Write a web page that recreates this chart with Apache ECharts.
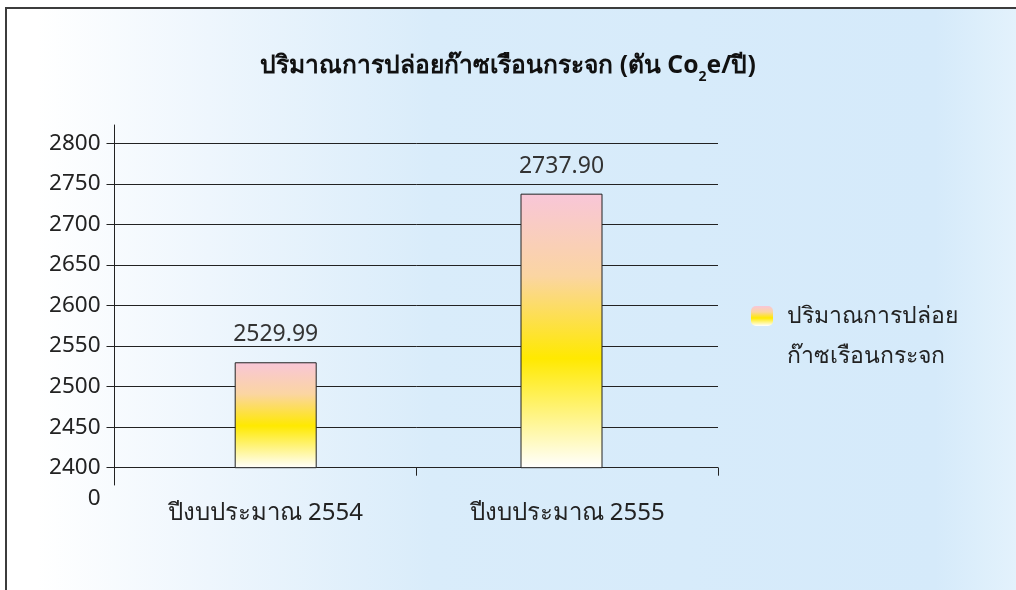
<!DOCTYPE html>
<html>
<head>
<meta charset="utf-8">
<script src="https://cdn.jsdelivr.net/npm/echarts@6/dist/echarts.min.js"></script>
<style>
  html, body { margin: 0; padding: 0; background: #fff; }
  .frame {
    position: absolute;
    left: 5px;
    top: 7px;
    width: 1011px;
    height: 583px;
    box-sizing: border-box;
    border-top: 2px solid #3c3c3c;
    border-left: 2px solid #3c3c3c;
    background: linear-gradient(to right, #ffffff 3%, #eef6fd 20%, #d9ecfa 42%, #d5eafa 92%, #e3f2fc 100%);
  }
  #chart { position: absolute; left: 0; top: 0; width: 1016px; height: 590px; }
</style>
</head>
<body>
<div class="frame"></div>
<div id="chart"></div>
<script>
// data
const categories = ['ปีงบประมาณ 2554', 'ปีงบประมาณ 2555'];
const emissions = [2529.99, 2737.90];
const seriesName = 'ปริมาณการปล่อย\nก๊าซเรือนกระจก';
const yMin = 2400, yMax = 2800, yStep = 50;

const font = 'Noto Sans, sans-serif';
const barFill = new echarts.graphic.LinearGradient(0, 0, 0, 1, [
  { offset: 0, color: '#f8c6d8' },
  { offset: 0.3, color: '#fbd5a2' },
  { offset: 0.6, color: '#ffe900' },
  { offset: 1, color: '#ffffff' }
]);

const chart = echarts.init(document.getElementById('chart'));
chart.setOption({
  backgroundColor: 'transparent',
  textStyle: { fontFamily: font },
  title: {
    left: 'center',
    top: 43,
    text: '{t|ปริมาณการปล่อยก๊าซเรือนกระจก (ตัน Co}{sub|2}{t|e/ปี)}',
    textStyle: {
      rich: {
        t: { fontFamily: font, fontSize: 24.6, fontWeight: 'bold', color: '#111' },
        sub: { fontFamily: font, fontSize: 14, color: '#111', padding: [22, 0, 0, 0] }
      }
    }
  },
  legend: {
    left: 751,
    top: 256,
    padding: 0,
    orient: 'vertical',
    itemWidth: 22,
    itemHeight: 20,
    itemStyle: { borderWidth: 0 },
    formatter: name => '\n' + name,
    textStyle: { fontFamily: font, fontSize: 23, color: '#222', lineHeight: 40, padding: [0, 0, 0, 9] },
    data: [seriesName]
  },
  grid: [
    // axes frame
    { left: 114.5, right: 298, top: 143.3, bottom: 122.3 },
    // extended y axis line
    { left: 114.5, right: 298, top: 125, bottom: 105 },
    // bars
    { left: 132.8, right: 311.6, top: 143.3, bottom: 122.3 }
  ],
  xAxis: [{
    type: 'category',
    data: categories,
    gridIndex: 0,
    axisLine: { lineStyle: { color: '#222', width: 1 } },
    axisTick: { show: true, length: 8, lineStyle: { color: '#222' } },
    axisLabel: { fontFamily: font, fontSize: 24, color: '#222', margin: 33 }
  }, {
    type: 'category',
    data: categories,
    gridIndex: 1,
    show: false
  }, {
    type: 'category',
    data: categories,
    gridIndex: 2,
    show: false
  }],
  yAxis: [{
    type: 'value',
    gridIndex: 0,
    min: yMin,
    max: yMax,
    interval: yStep,
    axisLine: { show: false },
    axisTick: { show: true, length: 8, lineStyle: { color: '#222' } },
    splitLine: { lineStyle: { color: '#222', width: 1 } },
    axisLabel: { fontFamily: font, fontSize: 22.5, color: '#222', margin: 14, formatter: v => String(v) }
  }, {
    type: 'value',
    gridIndex: 1,
    min: 0,
    max: 1,
    interval: 1,
    axisLine: { show: true, lineStyle: { color: '#222', width: 1 } },
    axisTick: { show: false },
    splitLine: { show: false },
    axisLabel: {
      fontFamily: font, fontSize: 22.5, color: '#222', margin: 14,
      verticalAlign: 'top',
      padding: [2, 0, 0, 0],
      formatter: v => (v === 0 ? '0' : '')
    }
  }, {
    type: 'value',
    gridIndex: 2,
    min: yMin,
    max: yMax,
    interval: yStep,
    show: false,
    splitLine: { show: false }
  }],
  series: [{
    name: seriesName,
    type: 'bar',
    xAxisIndex: 2,
    yAxisIndex: 2,
    barWidth: 82,
    data: emissions,
    itemStyle: { color: barFill, borderColor: '#222', borderWidth: 1 },
    label: {
      show: true,
      position: 'top',
      distance: 16,
      fontFamily: font,
      fontSize: 23,
      color: '#333',
      formatter: p => p.value.toFixed(2)
    }
  }]
});
</script>
</body>
</html>
